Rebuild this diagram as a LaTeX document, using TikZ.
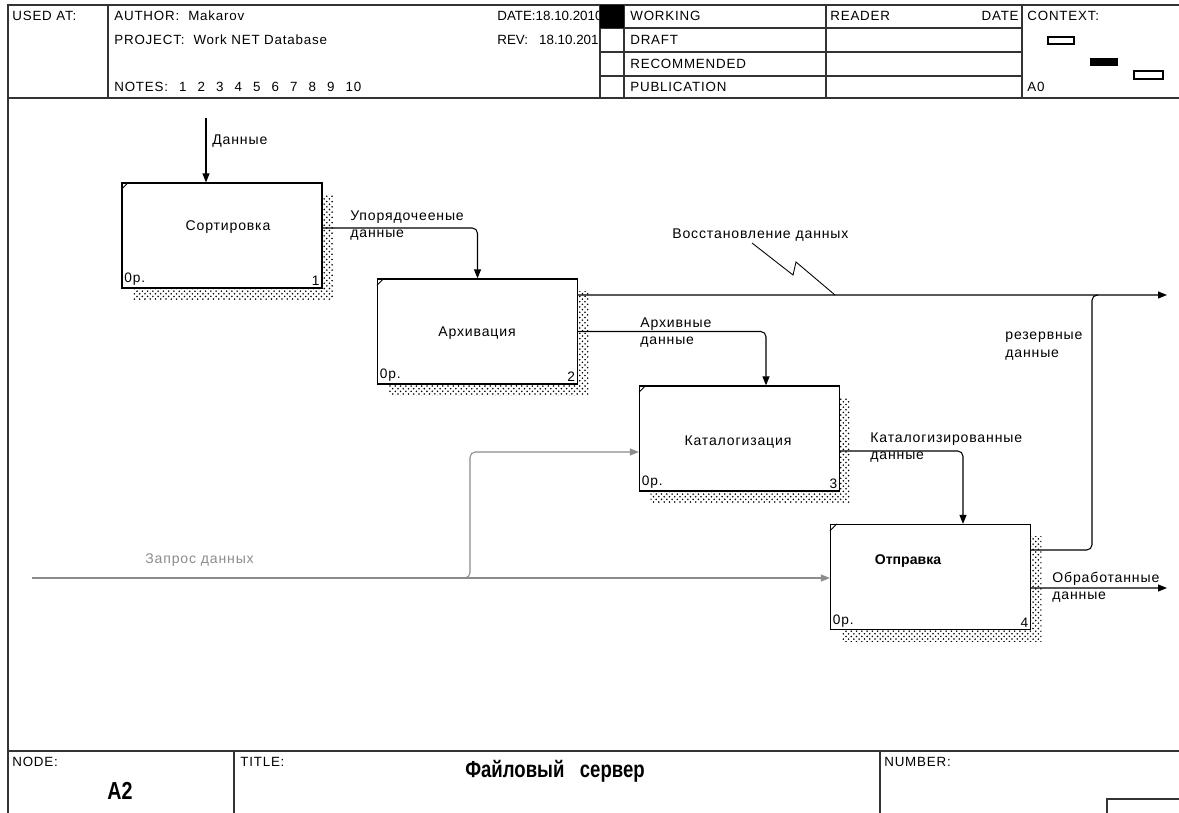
\documentclass[tikz,border=0pt]{standalone}
\usepackage{fontspec}
\setmainfont{Liberation Sans}
\newfontfamily\idef[LetterSpace=6]{Liberation Sans}
\newfontfamily\idefnarrow[FakeStretch=0.8]{Liberation Sans}
\usepackage{tikz}
\usetikzlibrary{positioning, arrows.meta, calc, patterns, shadows}

\tikzset{
  frame/.style={draw=black!80, line width=0.6pt},
  hdr/.style={font=\idef\fontsize{7.6}{9}\selectfont, inner sep=0pt, anchor=west},
  hdrdate/.style={hdr, font=\fontsize{7.6}{9}\selectfont},
  lbl/.style={font=\idef\fontsize{8}{9.8}\selectfont, inner sep=0pt, anchor=north west, align=left},
  boxtxt/.style={font=\idef\fontsize{8}{9.8}\selectfont, inner sep=0pt},
  cornertxt/.style={font=\idef\fontsize{7.8}{9}\selectfont, inner sep=1.5pt},
  fnbox/.style={draw, line width=0.7pt, fill=white, minimum width=4cm,
    minimum height=2.1cm, inner sep=0pt,
    general shadow={shadow xshift=0.22cm, shadow yshift=-0.24cm,
      pattern=crosshatch dots, pattern color=black}},
  flow/.style={draw, line width=0.6pt, rounded corners=3pt,
    -{Triangle[length=1.8mm, width=1.4mm]}},
  req/.style={flow, draw=black!45, color=black!45}
}
\newcommand{\nsp}{\hspace{6.3pt}}

\begin{document}
\begin{tikzpicture}[x=0.02cm, y=-0.02cm]
\useasboundingbox (0,0) rectangle (1179,813);

% header
\node[hdr] (usedAt) at (12,16) {USED AT:};
\node[hdr] (author) at (114,16) {AUTHOR:\ \ Makarov};
\node[hdr] (project) at (114,40) {PROJECT:\ \ Work NET Database};
\node[hdr] (notes) at (114,87) {NOTES:\nsp 1\nsp 2\nsp 3\nsp 4\nsp 5\nsp 6\nsp 7\nsp 8\nsp 9\nsp 10};
\node[hdrdate] (date) at (497,16) {DATE:18.10.2010};
\node[hdrdate] (rev) at (497,40) {REV:\ \ \ 18.10.2010};
\node[hdr] (working) at (630,16) {WORKING};
\node[hdr] (draft) at (630,40) {DRAFT};
\node[hdr] (recomm) at (630,64) {RECOMMENDED};
\node[hdr] (publ) at (630,87) {PUBLICATION};
\node[hdr] (reader) at (830,16) {READER};
\node[hdr, anchor=east] (rdate) at (1019,16) {DATE};
\node[hdr] (context) at (1027,16) {CONTEXT:};
\node[hdr] (ctxNode) at (1027,87) {A0};
\draw[line width=0.6pt] (1048,37) rectangle (1074,44);
\fill (1090,58) rectangle (1118,66);
\draw[line width=0.6pt] (1134,71) rectangle (1163,79);

% form frame
\fill[white] (600.5,5) rectangle (624,98);
\draw[frame] (8,813) -- (8,5) -- (1179,5);
\draw[frame] (8,98) -- (1179,98);
\draw[frame] (8,751) -- (1179,751);
\foreach \x in {108,600,624,826,1022} \draw[frame] (\x,5) -- (\x,98);
\foreach \y in {28,52,76} \draw[frame] (600,\y) -- (1022,\y);
\fill (600,5) rectangle (624,28);
\draw[frame] (234,751) -- (234,813);
\draw[frame] (880,751) -- (880,813);
\draw[frame] (1107,813) |- (1179,799);

% footer
\node[hdr] (nodeLbl) at (12,762) {NODE:};
\node[font=\idefnarrow\bfseries\fontsize{14}{16}\selectfont, inner sep=0pt] (nodeNo) at (120,791) {A2};
\node[hdr] (titleLbl) at (240,762) {TITLE:};
\node[font=\idefnarrow\bfseries\fontsize{13.2}{16}\selectfont, inner sep=0pt] (title) at (555,771) {Файловый\ \ \ сервер};
\node[hdr] (numLbl) at (884,762) {NUMBER:};

% function boxes
\node[fnbox] (sort) at (222,235.5) {};
\node[fnbox] (arch) at (477.5,331.5) {};
\node[fnbox] (catl) at (739.5,438.5) {};
\node[fnbox] (send) at (930.5,577) {};
\node[boxtxt] (sortTxt) at (228,227) {Сортировка};
\node[boxtxt] (archTxt) at (477,333) {Архивация};
\node[boxtxt] (catlTxt) at (738,442) {Каталогизация};
\node[boxtxt, font=\fontsize{8}{9.8}\selectfont\bfseries] (sendTxt) at (908,561) {Отправка};
\foreach \b/\n in {sort/1, arch/2, catl/3, send/4} {
  \draw[line width=0.5pt] ([yshift=-0.14cm]\b.north west) -- ([xshift=0.14cm]\b.north west);
  \node[cornertxt, anchor=south west] at (\b.south west) {0р.};
  \node[cornertxt, anchor=south east] at (\b.south east) {\n};
}

% arrows
\coordinate (dIn) at (206,118);
\coordinate (restOut) at (1167,295);
\coordinate (bkJoin) at (1092,295);
\coordinate (resOut) at (1167,588);
\coordinate (reqIn) at (32,578);
\coordinate (reqBr) at (470,578);

\draw[flow] (dIn) -- (dIn |- sort.north);
\draw[flow] ([yshift=0.15cm]sort.east) -| (arch.north);
\draw[flow] ([yshift=0.73cm]arch.east) -- (restOut);
\draw[flow] (arch.east) -| ([xshift=0.53cm]catl.north);
\draw[flow] ([yshift=-0.25cm]catl.east) -| ([xshift=0.65cm]send.north);
\draw[flow] ([yshift=-0.22cm]send.east) -- (resOut);
\draw[draw, line width=0.6pt, rounded corners=3pt]
  ([yshift=0.54cm]send.east) -| (bkJoin) -- ([xshift=0.12cm]bkJoin);
\draw[req] (reqIn) -- ([yshift=-0.02cm]send.west);
\draw[req] ([xshift=-0.16cm]reqBr) -- (reqBr) |- ([yshift=-0.27cm]catl.west);
\draw[line width=0.5pt] (752,243) -- (793,275) -- (796,262) -- (835,295);

% arrow labels
\node[lbl] (dLbl) at (212,134) {Данные};
\node[lbl] (sortOut) at (350,210) {Упорядочееные\\данные};
\node[lbl] (restLbl) at (672,228) {Восстановление данных};
\node[lbl] (archOut) at (640,317) {Архивные\\данные};
\node[lbl] (bkLbl) at (1005,332) {резервные\\данные};
\node[lbl] (catlOut) at (870,432) {Каталогизированные\\данные};
\node[lbl] (sendOut) at (1052,572) {Обработанные\\данные};
\node[lbl, text=black!45] (reqLbl) at (145,553) {Запрос данных};
\end{tikzpicture}
\end{document}
